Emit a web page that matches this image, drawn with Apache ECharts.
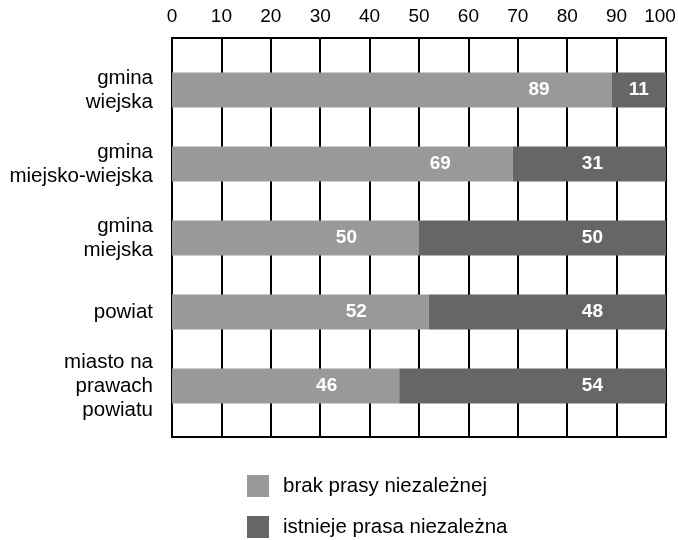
<!DOCTYPE html>
<html>
<head>
<meta charset="utf-8">
<script src="https://cdn.jsdelivr.net/npm/echarts@6/dist/echarts.min.js"></script>
<style>
  html, body { margin: 0; padding: 0; background: #fff; }
  #chart { width: 678px; height: 540px; }
</style>
</head>
<body>
<div id="chart"></div>
<script>
// Categories (top to bottom) and shares in percent
const categories = ['gmina\nwiejska', 'gmina\nmiejsko-wiejska', 'gmina\nmiejska', 'powiat', 'miasto na\nprawach\npowiatu'];
const seriesNames = ['brak prasy niezależnej', 'istnieje prasa niezależna'];
const brakPrasy = [89, 69, 50, 52, 46];
const istniejePrasa = [11, 31, 50, 48, 54];
const axisTicks = [0, 10, 20, 30, 40, 50, 60, 70, 80, 90, 100];

const FONT = '"Liberation Sans", Arial, sans-serif';
const LIGHT = '#999999';
const DARK = '#666666';
const AXIS_MAX = axisTicks[axisTicks.length - 1];

// Narrow segments get their label centred, wider ones near the right end
function items(values, wideDistance) {
  return values.map(v => ({
    value: v,
    label: v < 20 ? { position: 'inside' } : { position: 'insideRight', distance: wideDistance }
  }));
}

function legendFor(name, top) {
  return {
    orient: 'vertical', left: 247, top: top, padding: 0,
    itemWidth: 22, itemHeight: 22,
    icon: 'rect',
    data: [name],
    textStyle: { color: '#000', fontSize: 20.5, fontFamily: FONT, padding: [0, 0, 0, 9] }
  };
}

const chart = echarts.init(document.getElementById('chart'), null, { renderer: 'canvas' });

chart.setOption({
  animation: false,
  backgroundColor: '#fff',
  textStyle: { fontFamily: FONT },
  grid: [
    // frame with the scale and vertical grid lines
    { left: 172, right: 12, top: 38, bottom: 103, show: true, borderColor: '#000', borderWidth: 2,
      backgroundColor: 'transparent', containLabel: false, outerBoundsMode: 'none' },
    // bars
    { left: 172, right: 12, top: 53, bottom: 117, containLabel: false, outerBoundsMode: 'none' }
  ],
  xAxis: [
    {
      gridIndex: 0, type: 'value', position: 'top',
      min: axisTicks[0], max: AXIS_MAX, interval: 10,
      axisLine: { show: true, lineStyle: { color: '#000', width: 2 } },
      axisTick: { show: true, inside: false, length: 5, lineStyle: { color: '#000', width: 2 } },
      axisLabel: {
        color: '#000', fontSize: 19, fontFamily: FONT, margin: 12,
        formatter: v => (v === AXIS_MAX ? '{m|' + v + '}' : String(v)),
        rich: { m: { color: '#000', fontSize: 19, fontFamily: FONT, padding: [0, 12, 0, 0] } }
      },
      splitLine: { show: true, lineStyle: { color: '#000', width: 2 } }
    },
    {
      gridIndex: 1, type: 'value', min: 0, max: 100, show: false,
      splitLine: { show: false }
    }
  ],
  yAxis: [
    { gridIndex: 0, type: 'value', show: false, splitLine: { show: false } },
    {
      gridIndex: 1, type: 'category', data: categories, inverse: true,
      axisLine: { show: false }, axisTick: { show: false },
      axisLabel: { color: '#000', fontSize: 20.5, fontFamily: FONT, margin: 19, lineHeight: 24, align: 'right' }
    }
  ],
  legend: [legendFor(seriesNames[0], 475), legendFor(seriesNames[1], 516)],
  series: [
    {
      name: seriesNames[0], type: 'bar', stack: 'total',
      xAxisIndex: 1, yAxisIndex: 1, barWidth: 35,
      itemStyle: { color: LIGHT },
      label: { show: true, color: '#fff', fontWeight: 'bold', fontSize: 19, fontFamily: FONT },
      data: items(brakPrasy, 62)
    },
    {
      name: seriesNames[1], type: 'bar', stack: 'total',
      xAxisIndex: 1, yAxisIndex: 1, barWidth: 35,
      itemStyle: { color: DARK },
      label: { show: true, color: '#fff', fontWeight: 'bold', fontSize: 19, fontFamily: FONT },
      data: items(istniejePrasa, 63)
    }
  ]
});
</script>
</body>
</html>
